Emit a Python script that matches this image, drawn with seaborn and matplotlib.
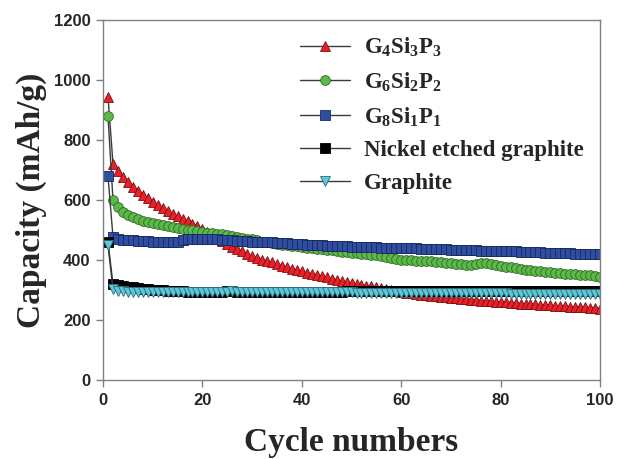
import matplotlib
matplotlib.use("Agg")
import matplotlib.pyplot as plt
import seaborn as sns
import numpy as np

cycles = list(range(1, 101))

g4si3p3 = [945, 722, 698, 678, 661, 645, 631, 618, 606, 595,
           584, 574, 564, 555, 546, 538, 530, 522, 514, 503,
           494, 485, 475, 465, 455, 445, 437, 429, 421, 413,
           407, 402, 397, 392, 387, 381, 376, 371, 366, 362,
           358, 354, 350, 346, 342, 338, 334, 330, 326, 322,
           320, 317, 315, 312, 310, 306, 303, 299, 296, 293,
           291, 289, 287, 285, 283, 281, 279, 277, 276, 274,
           272, 270, 269, 268, 266, 265, 264, 262, 261, 260,
           259, 258, 257, 255, 254, 253, 252, 251, 250, 249,
           248, 247, 246, 245, 244, 243, 242, 241, 240, 238]

g6si2p2 = [880, 602, 576, 561, 552, 544, 538, 532, 527, 523,
           519, 516, 513, 510, 507, 504, 502, 499, 497, 494,
           492, 490, 488, 486, 484, 481, 478, 475, 472, 469,
           466, 462, 459, 456, 454, 452, 450, 448, 446, 444,
           442, 440, 438, 436, 435, 433, 431, 428, 426, 425,
           423, 421, 419, 417, 416, 414, 411, 408, 405, 402,
           400, 399, 398, 398, 397, 396, 394, 392, 390, 389,
           387, 386, 385, 384, 386, 389, 391, 388, 384, 380,
           378, 376, 373, 371, 368, 366, 364, 362, 360, 359,
           357, 356, 355, 354, 352, 351, 350, 349, 347, 344]

g8si1p1 = [680, 478, 470, 468, 467, 466, 465, 465, 464, 462,
           460, 459, 459, 460, 461, 466, 470, 472, 472, 471,
           470, 470, 469, 468, 467, 466, 465, 464, 463, 462,
           461, 461, 460, 459, 458, 457, 456, 455, 455, 454,
           451, 451, 450, 449, 448, 447, 447, 446, 446, 445,
           445, 444, 444, 443, 443, 442, 442, 441, 441, 440,
           440, 439, 439, 438, 438, 437, 437, 436, 436, 435,
           435, 434, 434, 433, 433, 432, 432, 431, 431, 430,
           430, 429, 429, 428, 427, 427, 426, 426, 425, 425,
           424, 424, 423, 423, 422, 422, 421, 421, 420, 420]

nickel = [462, 320, 316, 313, 311, 309, 307, 305, 303, 301,
          300, 299, 298, 297, 296, 296, 295, 295, 295, 295,
          295, 295, 295, 295, 296, 296, 295, 295, 295, 295,
          295, 295, 295, 295, 295, 295, 295, 295, 295, 295,
          295, 295, 295, 295, 295, 295, 295, 295, 296, 296,
          296, 296, 296, 296, 296, 296, 296, 296, 296, 296,
          296, 296, 296, 297, 297, 297, 297, 297, 297, 297,
          297, 297, 297, 298, 298, 298, 298, 298, 298, 298,
          298, 298, 298, 298, 298, 298, 298, 298, 298, 298,
          298, 298, 298, 298, 298, 298, 298, 298, 298, 298]

graphite = [450, 302, 298, 296, 295, 295, 294, 294, 293, 293,
            293, 293, 293, 293, 293, 293, 293, 293, 293, 293,
            293, 293, 293, 294, 295, 297, 295, 293, 293, 293,
            293, 293, 293, 293, 293, 292, 292, 292, 292, 292,
            292, 292, 292, 292, 292, 292, 292, 292, 292, 292,
            291, 291, 291, 291, 291, 291, 291, 291, 291, 291,
            291, 290, 290, 290, 290, 290, 290, 290, 290, 290,
            290, 290, 289, 289, 289, 289, 289, 289, 289, 289,
            289, 288, 288, 288, 288, 288, 288, 288, 288, 288,
            287, 287, 287, 287, 287, 287, 287, 286, 286, 286]

labels = [r"$\mathregular{G_4Si_3P_3}$", r"$\mathregular{G_6Si_2P_2}$",
          r"$\mathregular{G_8Si_1P_1}$", "Nickel etched graphite", "Graphite"]
xticks = [0, 20, 40, 60, 80, 100]
yticks = [0, 200, 400, 600, 800, 1000, 1200]

sns.set_theme(style="white")
plt.rcParams["font.family"] = ["Liberation Sans", "DejaVu Sans"]

fig = plt.figure(figsize=(6.18, 4.59), dpi=100)
ax = fig.add_axes([0.1667, 0.172, 0.8043, 0.784])

series = [g4si3p3, g6si2p2, g8si1p1, nickel, graphite]
markers = ["^", "o", "s", "s", "v"]
faces = ["#e8202a", "#5cb848", "#2f4ea2", "#000000", "#5ec6d6"]
edges = ["#7a1010", "#2f6a25", "#18285a", "#000000", "#2a6a75"]
linecol = "#3a3a3a"

for vals, m, fc, ec, lab in zip(series, markers, faces, edges, labels):
    sns.lineplot(x=cycles, y=vals, ax=ax, color=linecol, linewidth=1.0,
                 marker=m, markersize=7, markerfacecolor=fc,
                 markeredgecolor=ec, markeredgewidth=0.6, label=lab)

ax.set_xlim(0, 100)
ax.set_ylim(0, 1200)
ax.set_xticks(xticks)
ax.set_yticks(yticks)
ax.set_xticklabels([str(t) for t in xticks], fontsize=12, fontweight="bold",
                   family="Liberation Sans")
ax.set_yticklabels([str(t) for t in yticks], fontsize=12, fontweight="bold",
                   family="Liberation Sans")
for s in ax.spines.values():
    s.set_color("#808080")
    s.set_linewidth(1.0)
ax.tick_params(axis="both", which="major", direction="out", length=5,
               width=1.0, color="#808080", bottom=True, left=True,
               top=False, right=False, pad=4)

ax.set_xlabel("Cycle numbers", fontsize=24, fontweight="bold",
              family="Liberation Serif", labelpad=14)
ax.set_ylabel("Capacity (mAh/g)", fontsize=24, fontweight="bold",
              family="Liberation Serif", labelpad=5)

leg = ax.legend(loc="upper right", bbox_to_anchor=(0.995, 0.995), frameon=False,
                prop={"family": "Liberation Serif", "weight": "bold", "size": 16.5},
                handlelength=2.2, handletextpad=0.6, labelspacing=0.5,
                borderaxespad=0.2)

fig.savefig("out.png", dpi=100)
